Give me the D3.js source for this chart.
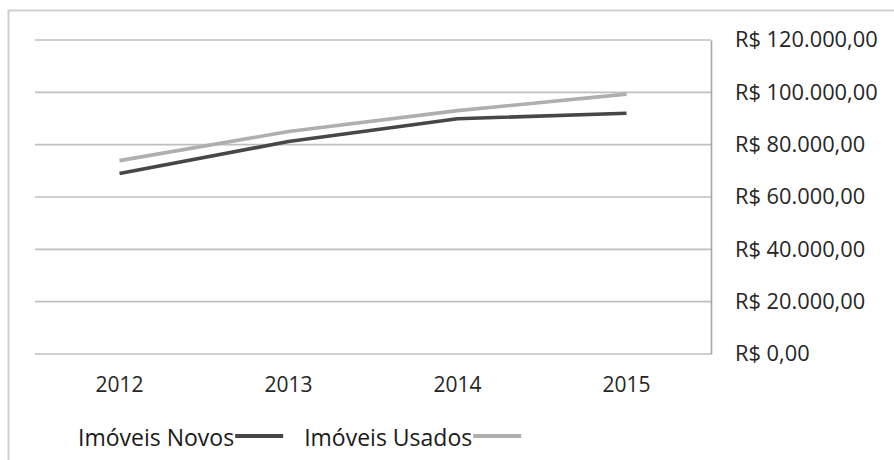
<!DOCTYPE html>
<html>
<head>
<meta charset="utf-8">
<script src="https://cdn.jsdelivr.net/npm/d3@7"></script>
<style>
  html, body { margin: 0; padding: 0; background: #fff; }
  svg { display: block; font-family: "Open Sans", "Noto Sans", sans-serif; }
</style>
</head>
<body>
<svg id="chart" width="894" height="460"></svg>
<script>
// Preço médio de imóveis por ano
const years = ["2012", "2013", "2014", "2015"];
const novos = [69000, 81200, 89900, 92000];
const usados = [73900, 85000, 93000, 99300];
const yTicks = [0, 20000, 40000, 60000, 80000, 100000, 120000];
const seriesNames = ["Imóveis Novos", "Imóveis Usados"];
const seriesColors = ["#474747", "#afafaf"];

const svg = d3.select("#chart");
const W = 894, H = 460;
const plot = { left: 35, right: 711, top: 40, bottom: 354 };

// Outer frame (top and left edges visible)
svg.append("path")
  .attr("d", `M8.5,${H} V10.5 H${W}`)
  .attr("fill", "none")
  .attr("stroke", "#cfcfcf")
  .attr("stroke-width", 2);

const x = d3.scaleBand().domain(years).range([plot.left, plot.right]);
const y = d3.scaleLinear().domain([0, 120000]).range([plot.bottom, plot.top]);

// Brazilian currency format: R$ 120.000,00
const brl = d3.formatLocale({ decimal: ",", thousands: ".", grouping: [3], currency: ["R$ ", ""] });
const fmt = brl.format("$,.2f");

// Horizontal gridlines
svg.append("g")
  .selectAll("line")
  .data(yTicks)
  .join("line")
  .attr("x1", plot.left)
  .attr("x2", plot.right)
  .attr("y1", d => y(d))
  .attr("y2", d => y(d))
  .attr("stroke", "#bfbfbf")
  .attr("stroke-width", 1.6);

// Right value axis
const yAxis = svg.append("g")
  .attr("transform", `translate(${plot.right},0)`)
  .call(d3.axisRight(y).tickValues(yTicks).tickFormat(fmt).tickSize(0).tickPadding(24));
yAxis.select(".domain").attr("stroke", "#a6a6a6").attr("stroke-width", 1.6);
yAxis.selectAll("text")
  .attr("fill", "#262626")
  .style("font-size", "21.8px")
  .style("font-family", "\"Open Sans\", sans-serif");

// Category axis labels
const xAxis = svg.append("g")
  .attr("transform", `translate(0,${plot.bottom})`)
  .call(d3.axisBottom(x).tickSize(0).tickPadding(23));
xAxis.select(".domain").remove();
xAxis.selectAll("text")
  .attr("fill", "#262626")
  .style("font-size", "21px")
  .style("font-family", "\"Open Sans\", sans-serif");

// Series lines
const line = d3.line()
  .x((d, i) => x(years[i]) + x.bandwidth() / 2)
  .y(d => y(d));

[novos, usados].forEach((vals, i) => {
  svg.append("path")
    .datum(vals)
    .attr("d", line)
    .attr("fill", "none")
    .attr("stroke", seriesColors[i])
    .attr("stroke-width", 3.6)
    .attr("stroke-linejoin", "round");
});

// Legend: label followed by a line swatch
const legend = svg.append("g").attr("transform", "translate(78,446)");
let lx = 0;
seriesNames.forEach((name, i) => {
  const t = legend.append("text")
    .attr("x", lx)
    .attr("y", 0)
    .attr("fill", "#1a1a1a")
    .style("font-size", "23px")
    .text(name);
  const w = t.node().getComputedTextLength();
  legend.append("line")
    .attr("x1", lx + w + 1)
    .attr("x2", lx + w + 49)
    .attr("y1", -10)
    .attr("y2", -10)
    .attr("stroke", seriesColors[i])
    .attr("stroke-width", 4);
  lx += w + 70;
});
</script>
</body>
</html>
